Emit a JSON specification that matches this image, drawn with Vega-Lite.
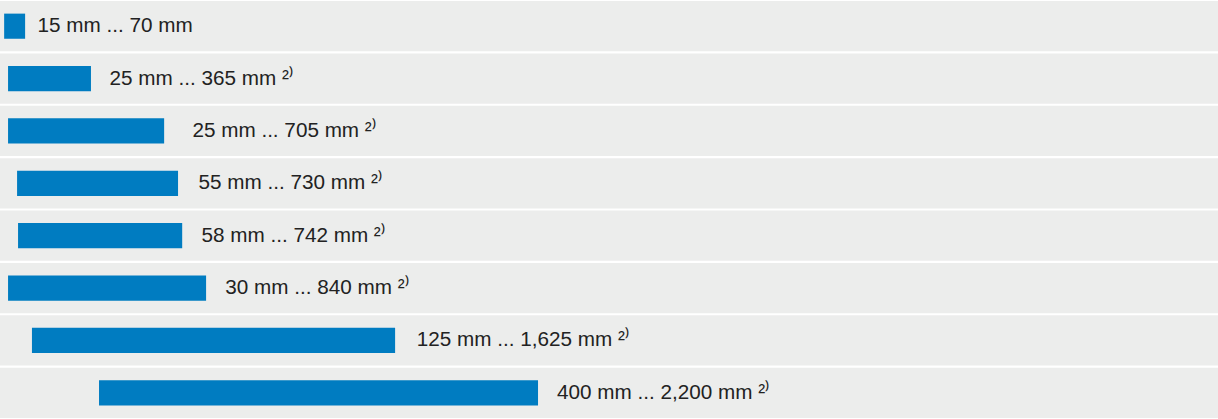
{
  "$schema": "https://vega.github.io/schema/vega-lite/v6.json",
  "width": 1218,
  "height": 419,
  "autosize": {"type": "fit", "contains": "padding"},
  "padding": 0,
  "background": "#ffffff",
  "config": {"view": {"stroke": null}},
  "data": {
    "values": [
      {"row": 1, "start": 11, "end": 97, "max": 70, "label": "15 mm ... 70 mm"},
      {"row": 2, "start": 27, "end": 367, "max": 365, "label": "25 mm ... 365 mm ²⁾"},
      {"row": 3, "start": 27, "end": 667, "max": 705, "label": "25 mm ... 705 mm ²⁾"},
      {"row": 4, "start": 64, "end": 724, "max": 730, "label": "55 mm ... 730 mm ²⁾"},
      {"row": 5, "start": 68, "end": 741, "max": 742, "label": "58 mm ... 742 mm ²⁾"},
      {"row": 6, "start": 27, "end": 839, "max": 840, "label": "30 mm ... 840 mm ²⁾"},
      {"row": 7, "start": 125, "end": 1614, "max": 1625, "label": "125 mm ... 1,625 mm ²⁾"},
      {"row": 8, "start": 400, "end": 2200, "max": 2200, "label": "400 mm ... 2,200 mm ²⁾"}
    ]
  },
  "encoding": {
    "y": {
      "field": "row",
      "type": "ordinal",
      "axis": null,
      "scale": {"paddingInner": 0.04, "paddingOuter": 0.02}
    }
  },
  "layer": [
    {
      "mark": {"type": "rect", "color": "#ecedec"}
    },
    {
      "mark": {"type": "bar", "color": "#007cc1", "height": {"band": 0.5}},
      "encoding": {
        "x": {
          "field": "start",
          "type": "quantitative",
          "axis": null,
          "scale": {"domain": [-6, 4988], "nice": false, "zero": false}
        },
        "x2": {"field": "end"}
      }
    },
    {
      "mark": {
        "type": "text",
        "align": "left",
        "baseline": "middle",
        "dx": 19,
        "font": "Liberation Sans",
        "fontSize": 20.7,
        "color": "#222222"
      },
      "encoding": {
        "x": {"field": "max", "type": "quantitative"},
        "text": {"field": "label"}
      }
    }
  ]
}
